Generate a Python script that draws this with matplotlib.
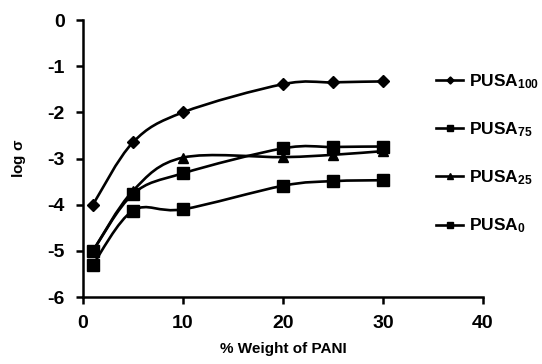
import matplotlib
matplotlib.use("Agg")
from matplotlib import pyplot as plt
from matplotlib.path import Path
from matplotlib.patches import PathPatch
from matplotlib.lines import Line2D

plt.rcParams['font.family'] = ['Liberation Sans', 'DejaVu Sans']
plt.rcParams['font.weight'] = 'bold'
plt.rcParams['mathtext.fontset'] = 'custom'
plt.rcParams['mathtext.rm'] = 'Liberation Sans:bold'
plt.rcParams['mathtext.default'] = 'rm'

weight = [1, 5, 10, 20, 25, 30]
pusa100 = [-4.00, -2.65, -2.00, -1.39, -1.35, -1.33]
pusa75 = [-5.00, -3.77, -3.32, -2.78, -2.75, -2.74]
pusa25 = [-5.00, -3.70, -2.98, -2.97, -2.92, -2.84]
pusa0 = [-5.30, -4.13, -4.10, -3.59, -3.49, -3.47]

series = [
    (r'PUSA$_{100}$', pusa100, 'D', 6),
    (r'PUSA$_{75}$', pusa75, 's', 8),
    (r'PUSA$_{25}$', pusa25, '^', 7),
    (r'PUSA$_{0}$', pusa0, 's', 8),
]


def smooth_path(x, y, tension=1 / 6):
    # spreadsheet-style smoothed line: cubic Bezier segments through every point
    verts = [(x[0], y[0])]
    codes = [Path.MOVETO]
    n = len(x)
    for i in range(n - 1):
        x0, y0 = (x[i - 1], y[i - 1]) if i > 0 else (x[i], y[i])
        x3, y3 = (x[i + 2], y[i + 2]) if i + 2 < n else (x[i + 1], y[i + 1])
        c1 = (x[i] + (x[i + 1] - x0) * tension, y[i] + (y[i + 1] - y0) * tension)
        c2 = (x[i + 1] - (x3 - x[i]) * tension, y[i + 1] - (y3 - y[i]) * tension)
        verts += [c1, c2, (x[i + 1], y[i + 1])]
        codes += [Path.CURVE4] * 3
    return Path(verts, codes)


fig = plt.figure(figsize=(5.42, 3.64), dpi=100)
ax = fig.add_axes([0.153, 0.184, 0.738, 0.761])

handles = []
for label, values, marker, size in series:
    ax.add_patch(PathPatch(smooth_path(weight, values), facecolor='none',
                           edgecolor='black', linewidth=1.9, zorder=2))
    ax.plot(weight, values, linestyle='none', marker=marker, markersize=size,
            color='black', zorder=3)
    handles.append(Line2D([], [], color='black', linewidth=1.9, marker=marker,
                          markersize=size * 0.6, label=label))

ax.set_xlim(0, 40)
ax.set_ylim(-6, 0)
ax.set_xticks([0, 10, 20, 30, 40])
ax.set_yticks([-6, -5, -4, -3, -2, -1, 0])
ax.set_xticklabels(['0', '10', '20', '30', '40'])
ax.set_yticklabels(['-6', '-5', '-4', '-3', '-2', '-1', '0'])
ax.spines['top'].set_visible(False)
ax.spines['right'].set_visible(False)
ax.spines['left'].set_linewidth(1.8)
ax.spines['bottom'].set_linewidth(1.8)
ax.tick_params(direction='out', length=5, width=1.8, labelsize=14, pad=8)

ax.set_xlabel('% Weight of PANI', fontsize=11, fontweight='bold', labelpad=7)
ax.set_ylabel(r'log $\sigma$', fontsize=11, fontweight='bold', labelpad=14)

fig.legend(handles=handles, loc='upper left', bbox_to_anchor=(0.775, 0.845),
           frameon=False, fontsize=12.5, handlelength=1.6, handletextpad=0.3,
           labelspacing=1.7)

fig.savefig('out.png', dpi=100)
